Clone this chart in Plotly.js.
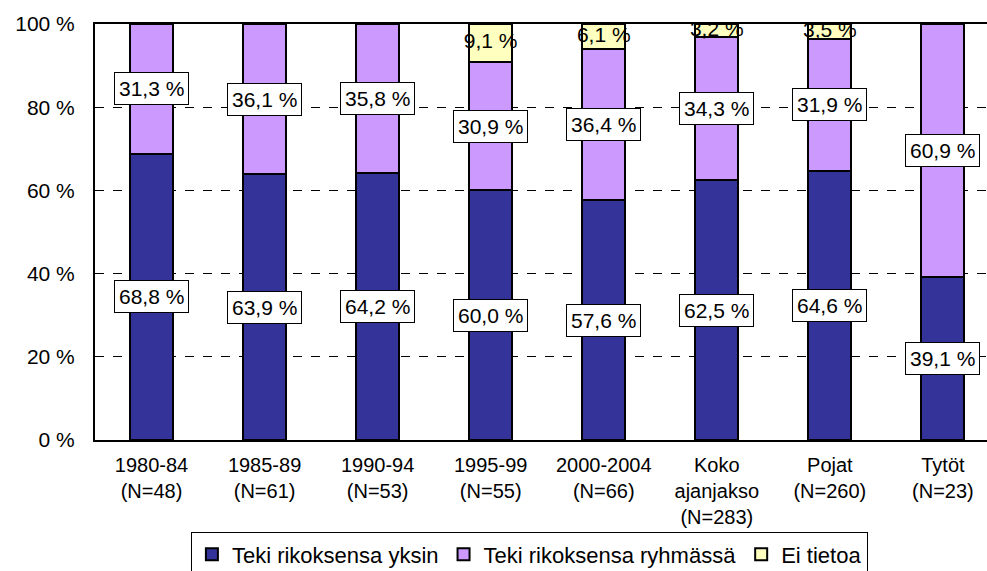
<!DOCTYPE html>
<html>
<head>
<meta charset="utf-8">
<script src="https://cdn.plot.ly/plotly-3.0.1.min.js"></script>
<style>html,body{margin:0;padding:0;background:#fff;}#chart{width:987px;height:571px;}</style>
</head>
<body>
<div id="chart"></div>
<script>
var categories = ["1980-84<br>(N=48)", "1985-89<br>(N=61)", "1990-94<br>(N=53)", "1995-99<br>(N=55)",
  "2000-2004<br>(N=66)", "Koko<br>ajanjakso<br>(N=283)", "Pojat<br>(N=260)", "Tytöt<br>(N=23)"];
var seriesNames = ["Teki rikoksensa yksin", "Teki rikoksensa ryhmässä", "Ei tietoa"];
var yksin = [68.8, 63.9, 64.2, 60.0, 57.6, 62.5, 64.6, 39.1];
var ryhmassa = [31.3, 36.1, 35.8, 30.9, 36.4, 34.3, 31.9, 60.9];
var eiTietoa = [0, 0, 0, 9.1, 6.1, 3.2, 3.5, 0];
var yTicks = [0, 20, 40, 60, 80, 100];
var yTickText = ["0 %", "20 %", "40 %", "60 %", "80 %", "100 %"];

var FONT = "Liberation Sans, Arial, sans-serif";
function fmt(v) { return v.toFixed(1).replace('.', ',') + ' %'; }

var colors = ["#333399", "#CC99FF", "#FFFFC0"];
var data = [yksin, ryhmassa, eiTietoa];
var traces = data.map(function (vals, i) {
  return {
    type: 'bar', x: categories, y: vals, name: seriesNames[i],
    marker: {color: colors[i], line: {color: '#000', width: 2}},
    hoverinfo: 'skip'
  };
});

var etX = [], etY = [], etT = [];
categories.forEach(function (c, i) {
  if (eiTietoa[i] > 0) {
    etX.push(c);
    etY.push(yksin[i] + ryhmassa[i] + eiTietoa[i] / 2);
    etT.push(fmt(eiTietoa[i]));
  }
});
traces.push({
  type: 'scatter', mode: 'text', x: etX, y: etY, text: etT,
  textfont: {family: FONT, size: 21, color: '#000'},
  textposition: 'middle center', cliponaxis: true, showlegend: false, hoverinfo: 'skip'
});

var annotations = [];
categories.forEach(function (c, i) {
  annotations.push({x: c, y: yksin[i] / 2, xref: 'x', yref: 'y', text: fmt(yksin[i]), showarrow: false,
    bgcolor: '#fff', bordercolor: '#000', borderwidth: 1, borderpad: 4,
    font: {family: FONT, size: 21, color: '#000'}});
  annotations.push({x: c, y: yksin[i] + ryhmassa[i] / 2, xref: 'x', yref: 'y', text: fmt(ryhmassa[i]), showarrow: false,
    bgcolor: '#fff', bordercolor: '#000', borderwidth: 1, borderpad: 4,
    font: {family: FONT, size: 21, color: '#000'}});
});

var layout = {
  width: 987, height: 571,
  margin: {l: 95, r: 0, t: 24, b: 131, autoexpand: false},
  paper_bgcolor: '#fff', plot_bgcolor: '#fff',
  barmode: 'stack', bargap: 0.62,
  font: {family: FONT, size: 20, color: '#000'},
  showlegend: true,
  legend: {orientation: 'h', x: 0.487, xanchor: 'center', y: -0.222, yanchor: 'top',
    bordercolor: '#000', borderwidth: 1, bgcolor: '#fff',
    font: {family: FONT, size: 22, color: '#000'}, traceorder: 'normal', itemwidth: 30, tracegroupgap: 0},
  xaxis: {type: 'category', range: [-0.5, 7.39], showline: true, mirror: true, linecolor: '#000', linewidth: 2,
    ticks: 'outside', ticklen: 6, tickcolor: 'rgba(0,0,0,0)', showgrid: false, automargin: false,
    tickfont: {family: FONT, size: 20, color: '#000'}, fixedrange: true},
  yaxis: {range: [0, 100], tickmode: 'array', tickvals: yTicks, ticktext: yTickText,
    showline: true, linecolor: '#000', linewidth: 2, automargin: false,
    ticks: 'outside', ticklen: 14, tickcolor: 'rgba(0,0,0,0)',
    showgrid: true, gridcolor: '#000', griddash: 'dash', gridwidth: 1, zeroline: false,
    tickfont: {family: FONT, size: 21, color: '#000'}, fixedrange: true},
  annotations: annotations
};

Plotly.newPlot('chart', traces, layout, {displayModeBar: false, staticPlot: true});
</script>
</body>
</html>
